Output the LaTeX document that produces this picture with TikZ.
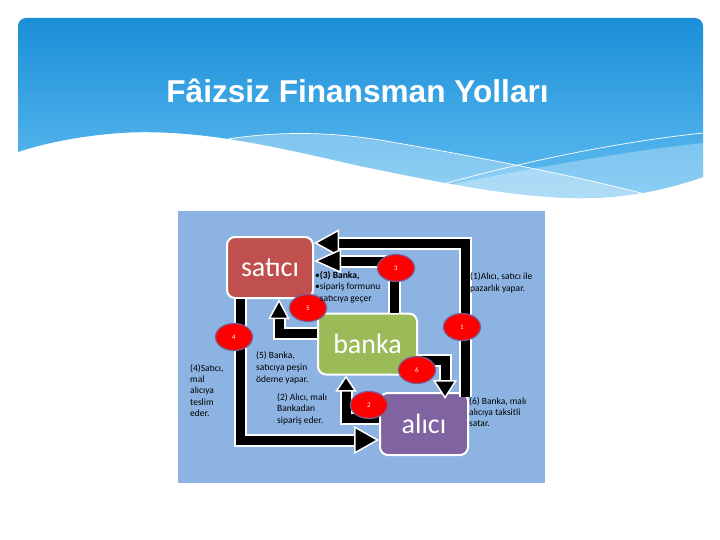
\documentclass[tikz,border=0pt]{standalone}
\usepackage{fontspec}
\setmainfont{Carlito}
\newfontfamily\titlefont{Liberation Sans}
\usetikzlibrary{arrows.meta,calc,shapes.geometric}
\definecolor{bannerTop}{HTML}{1A8FD8}
\definecolor{bannerBot}{HTML}{62BDF1}
\definecolor{diagbg}{HTML}{8DB3E2}
\definecolor{satred}{HTML}{C0504D}
\definecolor{bankgreen}{HTML}{9BBB59}
\definecolor{alipurple}{HTML}{8064A2}
\definecolor{circred}{HTML}{FF0000}
\definecolor{circedge}{HTML}{7B5C8E}
\tikzset{
  box/.style={draw=white, line width=2pt, rounded corners=8pt, text=white,
    font=\fontsize{28}{30}\selectfont, inner sep=0pt},
  num/.style={ellipse, fill=circred, draw=circedge, line width=1.2pt,
    minimum width=37pt, minimum height=27pt, inner sep=0pt, text=white,
    font=\fontsize{7}{8}\selectfont},
  flow/.style n args={3}{draw=black, line width=9pt, line join=miter,
    -{Triangle[width=#1, length=#2, fill=black, color=white, line width=1.5pt]},
    preaction={draw=white, line width=13pt, -, shorten >=#3}},
  note/.style={anchor=north west, inner sep=0pt, align=left, text=black},
}
\begin{document}
\begin{tikzpicture}[x=1pt,y=-1pt]
\useasboundingbox (0,0) rectangle (720,540);
\fill[white] (0,0) rectangle (720,540);
% banner
\shade[top color=bannerTop, bottom color=bannerBot]
  (18,152) [rounded corners=8pt] -- (18,18) -- (703,18) [sharp corners] -- (703,177)
  .. controls (660,192) and (620,199) .. (570,198)
  .. controls (500,196) and (420,178) .. (360,166)
  .. controls (280,148) and (200,128) .. (120,133)
  .. controls (80,136) and (45,143) .. (18,152) -- cycle;
% light bands
\fill[white, opacity=0.3]
  (228,139) .. controls (280,131) and (330,132) .. (380,140)
  .. controls (450,152) and (560,172) .. (645,194)
  .. controls (610,197) and (590,198) .. (570,198)
  .. controls (500,196) and (420,178) .. (360,166)
  .. controls (310,155) and (270,146) .. (228,139) -- cycle;
\fill[white, opacity=0.28]
  (440,187) .. controls (520,170) and (620,152) .. (703,143)
  -- (703,177) .. controls (660,192) and (620,199) .. (570,198)
  .. controls (520,197) and (480,193) .. (440,187) -- cycle;
\draw[white, line width=0.7pt]
  (228,139) .. controls (280,131) and (330,132) .. (380,140)
  .. controls (450,152) and (560,172) .. (645,194);
\draw[white, line width=0.7pt]
  (443,184) .. controls (520,163) and (610,143) .. (703,133);
\node[anchor=base, text=white, font=\titlefont\bfseries\fontsize{31.6}{36}\selectfont]
  (title) at (357.5,103) {Fâizsiz Finansman Yolları};
% diagram background
\fill[diagbg] (178,211) rectangle (545,483);
% boxes
\node[box, fill=satred, minimum width=86pt, minimum height=61pt] (satici) at (270,267.5) {satıcı};
\node[box, fill=bankgreen, minimum width=99pt, minimum height=61pt] (banka) at (367.5,344) {banka};
\node[box, fill=alipurple, minimum width=88pt, minimum height=62pt] (alici) at (424,424) {alıcı};
% arrows
\draw[flow={27pt}{25pt}{23pt}] ($(alici.north east)+(-4,5)$) |- ($(satici.east)+(0,-24.5)$);
\draw[flow={24pt}{27pt}{25pt}] ($(banka.north)+(26.5,0)$) |- ($(satici.east)+(0,-6.5)$);
\draw[flow={21pt}{20pt}{18pt}] ($(banka.west)+(0,-11)$) -| ($(satici.south)+(9,0)$);
\draw[flow={28pt}{25pt}{23pt}] ($(satici.south west)+(14,0)$) |- ($(alici.west)+(0,16)$);
\draw[flow={21pt}{16pt}{14pt}] ($(alici.west)+(0,-6)$) -| ($(banka.south)+(-21.5,0)$);
\draw[flow={24pt}{19pt}{17pt}] ($(banka.east)+(0,16)$) -| ($(alici.north)+(21,7)$);
% numbered circles
\node[num] (c1) at (462,327) {1};
\node[num] (c2) at (369,405) {2};
\node[num] (c3) at (396,268) {3};
\node[num] (c4) at (234,337) {4};
\node[num] (c5) at (308,308) {5};
\node[num] (c6) at (417,370) {6};
% notes
\node[note, font=\fontsize{9.5}{12}\selectfont] (t1) at (470,272) {(1)Alıcı, satıcı ile\\pazarlık yapar.};
\node[note, font=\fontsize{9.5}{11.5}\selectfont] (t3) at (315,271) {•\textbf{(3) Banka,}\\•sipariş formunu\\\phantom{•}satıcıya geçer};
\node[note, font=\fontsize{9.5}{11.3}\selectfont] (t4) at (190,364) {(4)Satıcı,\\mal\\alıcıya\\teslim\\eder.};
\node[note, font=\fontsize{9.5}{12}\selectfont] (t5) at (256,351) {(5) Banka,\\satıcıya peşin\\ödeme yapar.};
\node[note, font=\fontsize{9.5}{11.5}\selectfont] (t2) at (277,393) {(2) Alıcı, malı\\Bankadan\\sipariş eder.};
\node[note, font=\fontsize{9.5}{11}\selectfont] (t6) at (469,397) {(6) Banka, malı\\alıcıya taksitli\\satar.};
\end{tikzpicture}
\end{document}
